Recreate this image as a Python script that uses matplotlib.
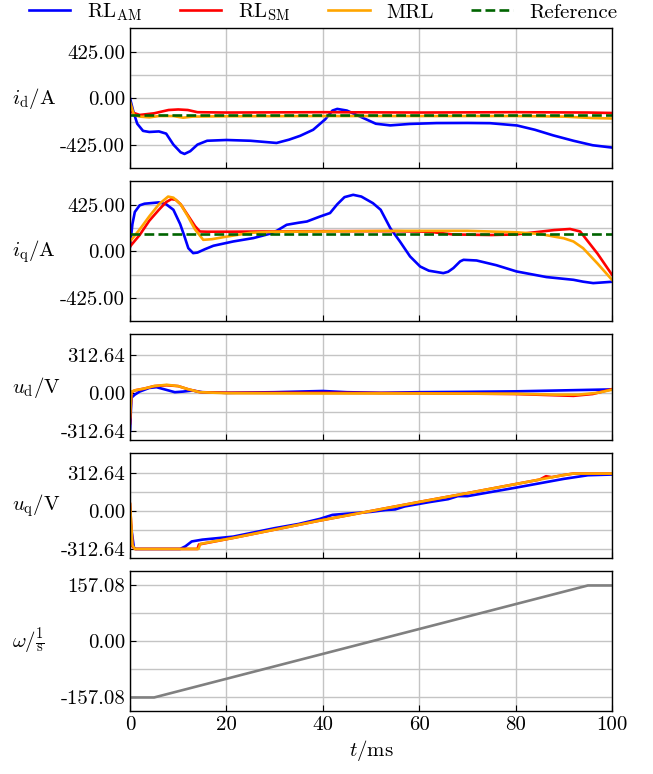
import matplotlib
matplotlib.use("Agg")
import matplotlib.pyplot as plt

plt.rcParams['font.family'] = 'serif'
plt.rcParams['font.serif'] = ['cmr10', 'DejaVu Serif']
plt.rcParams['mathtext.fontset'] = 'cm'
plt.rcParams['axes.unicode_minus'] = False
plt.rcParams['font.size'] = 15

# ---- data (t in ms) ----
# i_d
t_id_am = [0, 0.7, 1.5, 2.7, 4, 6, 7.5, 9, 10.5, 11.3, 12.5, 14, 16, 20, 25, 30.4, 33, 35.3, 38, 40.5,
           42, 43, 45, 48, 51, 54, 58, 63.6, 70, 74.7, 80.3, 84, 87.8, 92, 96, 100]
id_am = [0, -120, -230, -295, -305, -300, -320, -420, -490, -505, -480, -420, -385, -378, -385, -405, -375, -340, -285, -190,
         -110, -95, -110, -170, -230, -245, -232, -224, -223, -225, -246, -285, -336, -385, -426, -447]
t_id_sm = [0, 2, 5, 8, 10, 12, 14, 20, 40, 60, 80, 95, 100]
id_sm = [-120, -150, -135, -105, -100, -105, -125, -128, -125, -128, -125, -128, -132]
t_id_mrl = [0, 0.8, 2, 4, 6, 9, 11, 13, 20, 40, 60, 80, 90, 96, 100]
id_mrl = [-30, -150, -165, -172, -160, -160, -175, -165, -162, -160, -160, -160, -165, -178, -182]
t_ref = [0, 100]
id_ref = [-150, -150]

# i_q
t_iq_am = [0, 0.5, 1, 2, 3, 6, 7.5, 9, 10.4, 11.2, 12.1, 13.1, 14, 15.5, 17.3, 21.4, 25.6, 29, 30.5, 32.5,
           35, 36.7, 39.4, 41.5, 43, 44.5, 46.3, 48, 50.4, 52, 54, 56, 58.1, 60.2, 62, 65, 66, 67.1, 68.5,
           69.2, 71.9, 76, 80.2, 86.4, 92, 94, 96.1, 100]
iq_am = [45, 250, 360, 420, 435, 447, 430, 380, 250, 150, 30, -15, -10, 20, 52, 91, 122, 161, 190, 243,
         262, 273, 318, 350, 430, 495, 516, 500, 440, 380, 213, 91, -45, -137, -175, -197, -185, -151, -90,
         -76, -82, -125, -182, -233, -258, -275, -288, -276]
t_iq_sm = [0, 2, 4, 6, 7.5, 8.6, 9.5, 10.5, 12, 13.5, 14.5, 16, 20, 40, 55, 62, 67, 75, 80, 84, 88, 91.3,
           93.4, 97, 100]
iq_sm = [45, 150, 280, 380, 450, 477, 470, 430, 330, 230, 182, 180, 180, 185, 185, 180, 155, 150, 155, 175, 195,
         205, 182, -20, -212]
t_iq_mrl = [0, 2, 4, 6, 7.9, 9, 10.5, 12, 13.5, 15.2, 17, 20, 25, 30, 40, 55, 70, 80, 85, 87.8, 90, 92, 94,
            97, 100]
iq_mrl = [91, 200, 320, 430, 500, 490, 430, 320, 200, 106, 112, 135, 170, 180, 182, 188, 188, 175, 160, 137,
          120, 91, 30, -110, -258]
iq_ref = [160, 160]

# u_d
t_ud_am = [0, 0.3, 1, 2, 4, 5.5, 7, 9.3, 11, 13, 15, 20, 30, 40, 45, 52, 60, 70, 80, 90, 100]
ud_am = [-312, -40, -15, 10, 40, 46, 30, 5, 10, 19, 5, 0, 5, 15, 5, 0, 5, 8, 12, 20, 28]
t_ud_sm = [0, 0.3, 1, 3, 5, 7.6, 10, 12, 14.5, 20, 40, 60, 80, 88, 92, 96, 100]
ud_sm = [-250, 5, 20, 35, 55, 62, 55, 30, 5, 0, 0, -3, -10, -20, -25, -10, 30]
t_ud_mrl = [0, 0.3, 1, 3, 5, 7.6, 10, 12, 14.5, 20, 40, 60, 80, 88, 93, 97, 100]
ud_mrl = [-200, 10, 20, 35, 55, 66, 55, 30, 5, -3, -5, -5, -8, -15, -15, 0, 25]

# u_q
t_uq_am = [0, 0.8, 1.2, 10.4, 11.5, 12.8, 15, 21.4, 30, 35, 39.4, 42, 45, 50, 53, 55, 57, 62, 66, 68, 70,
           80, 90, 95, 100]
uq_am = [-60, -300, -312, -312, -290, -250, -235, -210, -140, -105, -63, -30, -20, -5, 10, 15, 40, 75, 100,
         125, 125, 195, 268, 298, 304]
t_uq_sm = [0, 0.5, 1, 14.0, 14.3, 21.4, 39.4, 50, 60, 70, 80, 85, 86.3, 87.5, 90, 92, 100]
uq_sm = [60, -290, -312, -312, -275, -221, -77, 2, 77, 150, 225, 262, 290, 282, 300, 312, 312]
t_uq_mrl = [0, 0.5, 1, 14.2, 14.6, 21.4, 39.4, 50, 60, 70, 80, 90, 92, 100]
uq_mrl = [60, -280, -312, -312, -270, -221, -77, 2, 77, 150, 225, 300, 312, 312]

# omega
t_w = [0, 5, 95, 100]
w = [-157.08, -157.08, 157.08, 157.08]

c_am, c_sm, c_mrl, c_ref = 'blue', 'red', 'orange', 'darkgreen'
lw = 1.9

fig, axs = plt.subplots(5, 1, figsize=(6.53, 7.74), dpi=100, sharex=True,
                        gridspec_kw=dict(height_ratios=[140, 140, 106, 105, 140], hspace=0.103,
                                         left=0.1991, right=0.9372, top=0.9632, bottom=0.0808))

ax = axs[0]
ax.plot(t_id_am, id_am, color=c_am, lw=lw, label=r'$\mathrm{RL}_\mathrm{AM}$')
ax.plot(t_id_sm, id_sm, color=c_sm, lw=lw, label=r'$\mathrm{RL}_\mathrm{SM}$')
ax.plot(t_id_mrl, id_mrl, color=c_mrl, lw=lw, label='MRL')
ax.plot(t_ref, id_ref, color=c_ref, lw=lw, ls='--', label='Reference')

ax = axs[1]
ax.plot(t_iq_am, iq_am, color=c_am, lw=lw)
ax.plot(t_iq_sm, iq_sm, color=c_sm, lw=lw)
ax.plot(t_iq_mrl, iq_mrl, color=c_mrl, lw=lw)
ax.plot(t_ref, iq_ref, color=c_ref, lw=lw, ls='--')

ax = axs[2]
ax.plot(t_ud_am, ud_am, color=c_am, lw=lw)
ax.plot(t_ud_sm, ud_sm, color=c_sm, lw=lw)
ax.plot(t_ud_mrl, ud_mrl, color=c_mrl, lw=lw)

ax = axs[3]
ax.plot(t_uq_am, uq_am, color=c_am, lw=lw)
ax.plot(t_uq_sm, uq_sm, color=c_sm, lw=lw)
ax.plot(t_uq_mrl, uq_mrl, color=c_mrl, lw=lw)

axs[4].plot(t_w, w, color='gray', lw=lw)

ylabels = [r'$i_\mathrm{d}/\mathrm{A}$', r'$i_\mathrm{q}/\mathrm{A}$', r'$u_\mathrm{d}/\mathrm{V}$',
           r'$u_\mathrm{q}/\mathrm{V}$', r'$\omega/\frac{1}{\mathrm{s}}$']
scales = [425.0, 425.0, 312.64, 312.64, 157.08]
lims = [(-1.5, 1.5), (-1.5, 1.5), (-1.25, 1.53), (-1.25, 1.53), (-1.25, 1.25)]

for ax, lab, s, lim in zip(axs, ylabels, scales, lims):
    ax.set_ylim(lim[0] * s, lim[1] * s)
    ax.set_yticks([-s, 0, s])
    ax.set_yticklabels(['-%.2f' % s, '0.00', '%.2f' % s])
    ax.set_yticks([-s / 2, s / 2], minor=True)
    ax.grid(True, which='both', color='#c4c4c4', lw=1.0)
    ax.set_axisbelow(True)
    ax.tick_params(direction='in', length=4, which='major', labelsize=15)
    ax.tick_params(which='minor', length=0)
    ax.set_ylabel(lab, rotation=0, ha='left', va='center', fontsize=15)
    ax.yaxis.set_label_coords(-0.245, 0.5)
    for sp in ax.spines.values():
        sp.set_linewidth(1.0)

axs[4].set_xlim(0, 100)
axs[4].set_xticks([0, 20, 40, 60, 80, 100])
axs[4].set_xlabel(r'$t/\mathrm{ms}$', fontsize=15, labelpad=3)

fig.legend(*axs[0].get_legend_handles_labels(), loc='upper center', bbox_to_anchor=(0.495, 1.022),
           ncol=4, frameon=False, fontsize=15, handlelength=2.0, columnspacing=1.8, handletextpad=0.8)

fig.savefig('out.png', dpi=100)
